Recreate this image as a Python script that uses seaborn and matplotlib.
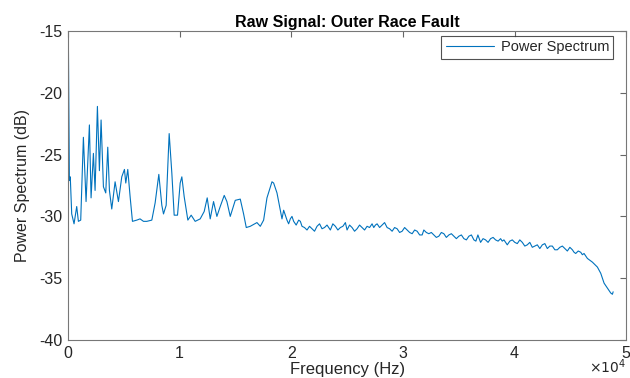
import numpy as np
import pandas as pd
import seaborn as sns
import matplotlib
matplotlib.use("Agg")
from matplotlib import pyplot as plt

# spectrum values (Hz, dB)
# low band with the fault harmonics
low_freq = [0, 30, 120, 200, 329, 538, 777, 927, 1136, 1375, 1614, 1913, 2063,
            2272, 2422, 2631, 2810, 2960, 3169, 3378, 3558, 3707, 3916, 4215,
            4514, 4813, 5052, 5172, 5351, 5560, 5770, 6159, 6450, 6757, 7056,
            7504, 7803, 8132, 8401, 8551, 8790, 9059, 9298, 9507, 9806, 10045,
            10194, 10403, 10732, 11030, 11389, 11838, 12197, 12466, 12735,
            13034, 13333, 13632, 13991, 14230, 14530, 14978, 15427, 15726,
            15965, 16324, 16922, 17221, 17520, 17819, 18268, 18417, 18716,
            19015, 19164, 19314]
low_db = [-15.9, -15.7, -27.1, -26.8, -29.8, -30.6, -29.2, -30.4, -30.3,
          -23.6, -28.8, -22.6, -28.5, -24.9, -27.9, -21.1, -26.3, -22.2,
          -27.6, -28.1, -24.4, -27.9, -29.4, -27.2, -28.8, -26.8, -26.2,
          -27.3, -26.2, -28.4, -30.4, -30.3, -30.2, -30.4, -30.4, -30.3,
          -28.9, -26.6, -29.1, -29.8, -29.1, -23.3, -26.5, -29.9, -29.9,
          -27.3, -26.8, -28.4, -30.3, -29.9, -30.4, -30.2, -29.6, -28.5,
          -30.2, -28.8, -30.0, -29.2, -28.3, -28.8, -30.0, -28.7, -28.6,
          -29.8, -30.9, -30.8, -30.5, -30.8, -30.3, -28.5, -27.2, -27.3,
          -28.1, -29.5, -30.2, -29.5]

# slowly falling plateau
mid_freq = [19613, 19912, 20211, 20659, 20958, 21405, 21854, 22303, 22751,
            23199, 23498, 23947, 24395, 24844, 24993, 25441, 25890, 26338,
            26787, 27235, 27385, 27684, 28132, 28581, 29029, 29478, 29926,
            30375, 30823, 31272, 31720, 31870, 32319, 32767, 33216, 33664,
            34113, 34561, 35010, 35458, 35907, 36355, 36714, 36953, 37402,
            37850, 38299, 38747, 39046, 39345, 39794, 40242, 40691, 41139,
            41588, 42036, 42485, 42933, 43382, 43830, 44279, 44727, 45176,
            45475, 45924, 46222]
mid_db = [-30.3, -30.2, -30.4, -30.3, -30.8, -31.1, -31.0, -30.8, -31.0,
          -30.7, -31.1, -30.8, -30.9, -30.5, -31.1, -30.9, -31.0, -30.9,
          -30.8, -30.6, -30.9, -30.6, -30.7, -30.9, -31.2, -31.0, -31.2,
          -31.1, -31.4, -31.2, -31.5, -31.1, -31.4, -31.5, -31.6, -31.4,
          -31.5, -31.6, -31.6, -31.8, -31.6, -31.9, -31.5, -32.1, -31.9,
          -31.8, -31.9, -31.8, -31.9, -32.3, -31.9, -32.2, -32.1, -32.3,
          -32.5, -32.3, -32.3, -32.6, -32.4, -32.7, -32.4, -32.8, -32.7,
          -33.0, -32.9, -33.0]

# small ripple between the plateau readings
ripple_freq = [19760, 20060, 20435, 20810, 21180, 21630, 22080, 22530, 22975,
               23350, 23720, 24170, 24620, 25217, 25665, 26114, 26562, 27010,
               27535, 27908, 28356, 28805, 29253, 29702, 30150, 30600, 31047,
               31496, 32095, 32543, 32991, 33440, 33888, 34337, 34785, 35234,
               35682, 36131, 36534, 37177, 37626, 38074, 38523, 38896, 39570,
               40018, 40466, 40915, 41363, 41812, 42260, 42709, 43157, 43606,
               44055, 44503, 44951, 45325, 45700, 46072]
ripple_db = [-30.6, -30.0, -30.7, -30.4, -30.9, -30.8, -31.2, -30.6, -30.9,
             -30.9, -30.6, -31.1, -30.8, -30.7, -31.2, -30.7, -31.1, -30.9,
             -30.7, -30.9, -30.5, -31.0, -30.9, -31.3, -30.9, -31.3, -31.1,
             -31.5, -31.3, -31.3, -31.7, -31.3, -31.7, -31.4, -31.8, -31.5,
             -31.9, -31.5, -32.0, -31.8, -32.1, -31.7, -32.0, -32.0, -32.0,
             -32.1, -31.9, -32.4, -32.1, -32.4, -32.6, -32.2, -32.4, -32.7,
             -32.5, -32.6, -32.5, -32.9, -32.8, -33.1]

# roll-off towards Nyquist
high_freq = [46521, 46970, 47418, 47717, 48016, 48315, 48614, 48764, 48828]
high_db = [-33.4, -33.7, -34.1, -34.6, -35.4, -35.8, -36.2, -36.3, -36.1]

df = pd.DataFrame({
    "Frequency": low_freq + mid_freq + ripple_freq + high_freq,
    "Power": low_db + mid_db + ripple_db + high_db,
})

sns.set_theme(style="white")
plt.rcParams["font.family"] = ["Liberation Sans", "DejaVu Sans"]
plt.rcParams["axes.unicode_minus"] = False

fig = plt.figure(figsize=(6.3, 3.78), dpi=100)
ax = fig.add_axes([0.108, 0.1005, 0.886, 0.8175])

sns.lineplot(data=df, x="Frequency", y="Power", ax=ax, estimator=None,
             sort=True, color="#0072BD", linewidth=0.8, label="Power Spectrum")

ax.set_xlim(0, 50000)
ax.set_ylim(-40, -15)
ax.set_xticks([0, 10000, 20000, 30000, 40000, 50000])
ax.set_xticklabels(["0", "1", "2", "3", "4", "5"])
ax.set_yticks([-40, -35, -30, -25, -20, -15])
ax.tick_params(direction="in", length=4, width=0.8, top=True, right=True,
               labelsize=11.5, colors="#666666", labelcolor="#262626",
               pad=4)
for sp in ax.spines.values():
    sp.set_color("#777777")
    sp.set_linewidth(0.8)

ax.set_xlabel("Frequency (Hz)", fontsize=12, color="#262626", labelpad=1)
ax.set_ylabel("Power Spectrum (dB)", fontsize=11.5, color="#262626",
              labelpad=7)
ax.set_title("Raw Signal: Outer Race Fault", fontsize=11.5, fontweight="bold",
             color="black", pad=3)
ax.text(1.0, -0.118, r"$\times10^{4}$", transform=ax.transAxes, ha="right",
        va="bottom", fontsize=10, color="#262626")

leg = ax.legend(loc="upper right", bbox_to_anchor=(0.977, 0.984),
                borderaxespad=0, fontsize=10.5, frameon=True, fancybox=False,
                handlelength=3.3, handletextpad=0.45, borderpad=0.3)
leg.get_frame().set_edgecolor("#262626")
leg.get_frame().set_linewidth(0.8)

fig.savefig("out.png", dpi=100)
